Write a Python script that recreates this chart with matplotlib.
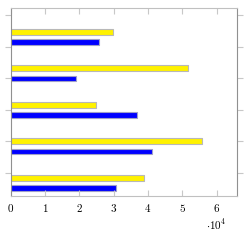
import numpy as np
import matplotlib.pyplot as plt

plt.rcParams['mathtext.fontset'] = 'cm'

groups = np.array([1, 2, 3, 4, 5])
yellow_vals = np.array([38900, 55700, 25000, 51800, 29700])
blue_vals = np.array([30800, 41300, 36800, 19000, 25800])
xtick_vals = np.array([0, 1, 2, 3, 4, 5, 6])

fig = plt.figure(figsize=(2.5, 2.4), dpi=100)
ax = fig.add_axes([0.042, 0.183, 0.907, 0.784])

h = 0.16
ax.barh(groups + 0.14, yellow_vals, height=h, color='#fff200', edgecolor='#b8b8b8', linewidth=0.8)
ax.barh(groups - 0.14, blue_vals, height=h, color='#0000ff', edgecolor='#a0a0c8', linewidth=0.8)

ax.set_xlim(0, 66000)
ax.set_ylim(0.64, 5.79)

ax.set_xticks(xtick_vals * 1e4)
ax.set_xticklabels([f'${v}$' for v in xtick_vals], fontsize=8)
ax.set_yticks(np.arange(1.27, 5.7, 0.866))
ax.set_yticklabels([])

ax.tick_params(axis='x', direction='in', top=True, length=4, color='#c8c8c8', pad=4.5)
ax.tick_params(axis='y', direction='out', right=True, length=4, color='#c8c8c8')
for s in ax.spines.values():
    s.set_color('#c0c0c0')
    s.set_linewidth(0.8)
ax.spines['left'].set_color('#909090')
ax.spines['right'].set_color('#909090')

# offset label placed in pixels (from bottom-left)
fig.text(216, 10, r'$\cdot 10^4$', fontsize=8, ha='center', va='baseline',
         transform=None)

fig.savefig('out.png', dpi=100)
